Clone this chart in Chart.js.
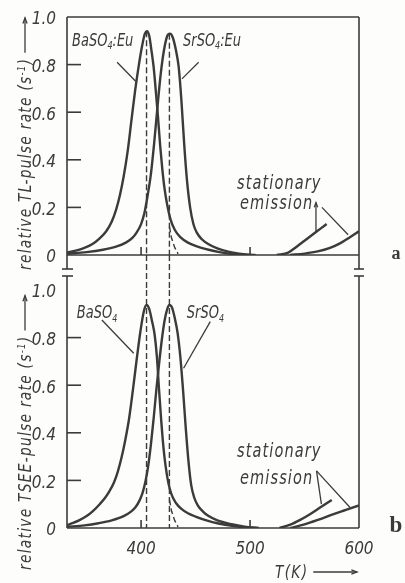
<!DOCTYPE html>
<html>
<head>
<meta charset="utf-8">
<script src="https://cdn.jsdelivr.net/npm/chart.js@4.4.0/dist/chart.umd.min.js"></script>
<style>
  html, body { margin: 0; padding: 0; background: #fdfdfc; }
  #wrap { position: relative; width: 405px; height: 583px; }
  #wrap canvas { position: absolute; left: 0; top: 0; }
</style>
</head>
<body>
<div id="wrap">
  <canvas id="tsee" width="405" height="583"></canvas>
  <canvas id="tl" width="405" height="583"></canvas>
</div>
<script>
// axes
const tRange = [332, 600];
const xTicks = [400, 500, 600];
const xMarks = [400, 500];
const yTicks = [0, 0.2, 0.4, 0.6, 0.8, 1.0];
const yTickLabels = ['0', '0.2', '0.4', '0.6', '0.8', '1.0'];

// panel a: TL pulse rate
const tlBaT = [332, 340, 348, 355, 362, 368, 373, 377, 380.5, 384, 387.5, 391, 394.5, 398, 401, 403.5, 405.5, 407.5, 409.5, 411.5, 413.5, 415.5, 417.5, 419.5, 421.5, 424, 427, 431, 436, 443, 452, 462, 472, 482, 495];
const tlBaV = [0.01, 0.018, 0.03, 0.045, 0.07, 0.1, 0.14, 0.19, 0.25, 0.33, 0.43, 0.56, 0.69, 0.8, 0.88, 0.93, 0.94, 0.92, 0.86, 0.79, 0.69, 0.58, 0.46, 0.36, 0.28, 0.21, 0.15, 0.105, 0.075, 0.052, 0.035, 0.022, 0.012, 0.005, 0];
const tlSrT = [332, 350, 365, 377, 386, 392, 396, 400, 403, 406, 409, 412, 415, 418, 421, 424, 426.5, 429, 432, 434.5, 437, 439.5, 442, 445, 448, 451, 456, 462, 470, 480, 490, 505];
const tlSrV = [0.005, 0.012, 0.022, 0.035, 0.052, 0.072, 0.095, 0.13, 0.175, 0.25, 0.34, 0.47, 0.62, 0.76, 0.86, 0.92, 0.93, 0.915, 0.86, 0.79, 0.65, 0.47, 0.32, 0.2, 0.13, 0.095, 0.065, 0.045, 0.028, 0.014, 0.006, 0];
const tlStatAT = [524.5, 535, 542.8, 550, 557.8, 565, 570.3];
const tlStatAV = [0, 0.01, 0.035, 0.06, 0.087, 0.112, 0.13];
const tlStatBT = [536.7, 550, 562, 573.4, 583, 591.7, 600];
const tlStatBV = [0, 0.006, 0.015, 0.03, 0.05, 0.075, 0.1];
const tlPeakT = [405, 426];
const tlPeakV = [0.94, 0.93];

// panel b: TSEE pulse rate
const tseeBaT = [332, 337, 343, 350, 356, 362, 367, 371, 375, 378.5, 382, 385.5, 389, 392.5, 396, 399.5, 402.5, 405, 407.5, 410, 412.5, 414.5, 416.5, 418.5, 420.5, 422.5, 425, 428, 432, 437, 443, 450, 460, 471, 485, 500];
const tseeBaV = [0.012, 0.02, 0.032, 0.05, 0.072, 0.1, 0.127, 0.155, 0.19, 0.235, 0.295, 0.37, 0.46, 0.58, 0.71, 0.83, 0.91, 0.937, 0.92, 0.87, 0.81, 0.72, 0.58, 0.45, 0.34, 0.26, 0.19, 0.14, 0.105, 0.08, 0.062, 0.048, 0.032, 0.019, 0.008, 0];
const tseeSrT = [332, 348, 361, 373, 384, 391, 395, 398.5, 401.5, 404, 406.5, 409, 411.5, 414, 416.5, 419, 421.5, 424, 426, 428.5, 431, 433.5, 436, 438.5, 441, 443.5, 446, 449, 452, 457, 462, 470, 483, 495, 508];
const tseeSrV = [0.005, 0.011, 0.02, 0.032, 0.05, 0.07, 0.088, 0.115, 0.15, 0.195, 0.26, 0.35, 0.46, 0.58, 0.69, 0.79, 0.87, 0.92, 0.937, 0.925, 0.88, 0.82, 0.72, 0.58, 0.42, 0.28, 0.18, 0.125, 0.095, 0.068, 0.05, 0.032, 0.016, 0.006, 0];
const tseeStatAT = [527, 537, 546, 555, 565, 575];
const tseeStatAV = [0, 0.014, 0.034, 0.058, 0.088, 0.118];
const tseeStatBT = [537, 550, 563, 576, 588, 600];
const tseeStatBV = [0, 0.015, 0.035, 0.057, 0.076, 0.095];
const tseePeakT = [405, 426];
const tseePeakV = [1, 1];

// short dashed tail next to the SrSO4 peak line (both panels)
const tailDashT = [426, 428, 431, 434];
const tailDashV = [0.12, 0.07, 0.03, 0.005];

const ink = '#3b3b3b';
const fam = "'DejaVu Sans Condensed', 'DejaVu Sans', sans-serif";
const tickFont = { family: fam, size: 17, style: 'italic' };
const squeeze = 0.85;

function pts(ts, vs) {
    return ts.map((t, i) => ({ x: t, y: vs[i] }));
}

function curve(ts, vs) {
    return {
        data: pts(ts, vs), borderColor: ink, borderWidth: 2.4, pointRadius: 0,
        cubicInterpolationMode: 'monotone', fill: false
    };
}

function dashed(data) {
    return {
        data, borderColor: ink, borderWidth: 1.4, borderDash: [6, 3],
        pointRadius: 0, tension: 0, fill: false
    };
}

function peakLines(ts, vs) {
    return ts.map((t, i) => dashed([{ x: t, y: vs[i] }, { x: t, y: 0 }]));
}

// narrow lettering with optional sub/superscript parts, y = vertical middle
function drawRich(ctx, parts, x, y, size, spacing, rot) {
    ctx.save();
    ctx.translate(x, y);
    if (rot) ctx.rotate(rot);
    ctx.scale(squeeze, 1);
    ctx.fillStyle = ink;
    ctx.textBaseline = 'alphabetic';
    ctx.textAlign = 'left';
    ctx.letterSpacing = spacing + 'px';
    let cx = 0;
    for (const p of parts) {
        const s = (p.sub || p.sup) ? size * 0.62 : size;
        ctx.font = `italic ${s}px ${fam}`;
        const dy = p.sub ? size * 0.22 : (p.sup ? -size * 0.36 : 0);
        ctx.fillText(p.t, cx, dy + size * 0.35);
        cx += ctx.measureText(p.t).width;
    }
    ctx.restore();
    return cx * squeeze;
}

function arrowLine(ctx, x1, y1, x2, y2, head) {
    ctx.beginPath();
    ctx.moveTo(x1, y1);
    ctx.lineTo(x2, y2);
    ctx.stroke();
    if (head) {
        const a = Math.atan2(y2 - y1, x2 - x1);
        ctx.beginPath();
        ctx.moveTo(x2 - head * Math.cos(a - 0.35), y2 - head * Math.sin(a - 0.35));
        ctx.lineTo(x2, y2);
        ctx.lineTo(x2 - head * Math.cos(a + 0.35), y2 - head * Math.sin(a + 0.35));
        ctx.stroke();
    }
}

// frame, inward ticks, breaks, labels and leader lines of one panel
function decor(spec) {
    return {
        id: 'decor',
        afterDatasetsDraw(chart) {
            const { ctx, chartArea: a, scales: { x, y } } = chart;
            const px = t => x.getPixelForValue(t);
            const py = v => y.getPixelForValue(v);
            ctx.save();
            ctx.strokeStyle = ink;
            ctx.lineWidth = 1.6;
            const seg = (x1, y1, x2, y2) => arrowLine(ctx, x1, y1, x2, y2, 0);

            const top = a.top - spec.extendTop;
            const bot = a.bottom + spec.extendBottom;
            seg(a.left, top, a.left, bot);
            seg(a.right, top, a.right, bot);
            if (spec.topBorder) seg(a.left, a.top, a.right, a.top);
            seg(a.left, a.bottom, a.right, a.bottom);
            const barY = spec.barAtTop ? top : bot;
            seg(a.left - 5, barY, a.left + 6, barY);
            seg(a.right - 5, barY, a.right + 5, barY);

            yTicks.slice(1, -1).forEach(v => seg(a.left, py(v), a.left + 14, py(v)));
            xMarks.forEach(t => seg(px(t), a.bottom, px(t), a.bottom - 8));

            // dashed peak lines running through the gap between panels
            if (spec.gapBelow) {
                ctx.save();
                ctx.lineWidth = 1.4;
                ctx.setLineDash([6, 3]);
                spec.peaks.forEach(t => seg(px(t), a.bottom, px(t), a.bottom + spec.gapBelow));
                ctx.restore();
            }

            ctx.lineWidth = 1.3;
            spec.leaders.forEach(l => arrowLine(ctx, px(l.from[0]), py(l.from[1]), px(l.to[0]), py(l.to[1]), l.head || 0));
            spec.labels.forEach(l => drawRich(ctx, l.parts, px(l.at[0]), py(l.at[1]), l.size, l.spacing || 0));

            // rotated y title + arrow
            const tx = 25, ty = a.bottom + spec.titleDrop;
            const w = drawRich(ctx, spec.title, tx, ty, 18, 1.5, -Math.PI / 2);
            arrowLine(ctx, tx, ty - w - 5, tx, ty - w - 40, 6);

            if (spec.xTitle) {
                const xw = drawRich(ctx, [{ t: 'T(K)' }], a.right - 84, a.bottom + 44, 18, 1.5);
                arrowLine(ctx, a.right - 84 + xw + 5, a.bottom + 44, a.right - 2, a.bottom + 44, 6);
            }

            ctx.fillStyle = ink;
            ctx.font = `bold ${spec.letterSize}px 'Liberation Serif', 'DejaVu Serif', serif`;
            ctx.textAlign = 'center';
            ctx.textBaseline = 'alphabetic';
            ctx.fillText(spec.letter, a.right + 37, a.bottom + 4);
            ctx.restore();
        }
    };
}

function panelOptions(padTop, padBottom, showX) {
    return {
        responsive: false,
        animation: false,
        events: [],
        layout: { padding: { left: 0, right: 46, top: padTop, bottom: padBottom } },
        plugins: { legend: { display: false }, tooltip: { enabled: false } },
        scales: {
            x: {
                type: 'linear', min: tRange[0], max: tRange[1], display: showX,
                grid: { display: false }, border: { display: false },
                afterBuildTicks: s => { s.ticks = xTicks.map(v => ({ value: v })); },
                afterFit: s => { if (showX) s.height = 55; },
                ticks: { color: ink, padding: 3, font: tickFont, maxRotation: 0, autoSkip: false, callback: v => String(v) }
            },
            y: {
                type: 'linear', min: 0, max: 1,
                grid: { display: false }, border: { display: false },
                afterBuildTicks: s => { s.ticks = yTicks.map(v => ({ value: v })); },
                afterFit: s => { s.width = 67; },
                ticks: { color: ink, padding: 3, labelOffset: 3, font: tickFont, autoSkip: false, callback: (v, i) => yTickLabels[i] }
            }
        }
    };
}

new Chart(document.getElementById('tl'), {
    type: 'line',
    data: {
        datasets: [
            curve(tlBaT, tlBaV), curve(tlSrT, tlSrV),
            curve(tlStatAT, tlStatAV), curve(tlStatBT, tlStatBV),
            ...peakLines(tlPeakT, tlPeakV),
            dashed(pts(tailDashT, tailDashV))
        ]
    },
    options: panelOptions(17, 328, false),
    plugins: [decor({
        letter: 'a', letterSize: 18, topBorder: true, extendTop: 0, extendBottom: 14, barAtTop: false,
        gapBelow: 35, peaks: tlPeakT, titleDrop: 15,
        title: [{ t: 'relative TL-pulse rate (s' }, { t: '-1', sup: true }, { t: ')' }],
        labels: [
            { parts: [{ t: 'BaSO' }, { t: '4', sub: true }, { t: ':Eu' }], at: [336.6, 0.905], size: 17 },
            { parts: [{ t: 'SrSO' }, { t: '4', sub: true }, { t: ':Eu' }], at: [438.5, 0.905], size: 17 },
            { parts: [{ t: 'stationary' }], at: [488, 0.307], size: 19, spacing: 1.3 },
            { parts: [{ t: 'emission' }], at: [490.8, 0.223], size: 19, spacing: 1.3 }
        ],
        leaders: [
            { from: [378, 0.81], to: [395, 0.73] },
            { from: [452.8, 0.81], to: [437.5, 0.74] },
            { from: [566, 0.2], to: [590, 0.085] },
            { from: [560.5, 0.1], to: [560.5, 0.22], head: 5 }
        ]
    })]
});

new Chart(document.getElementById('tsee'), {
    type: 'line',
    data: {
        datasets: [
            curve(tseeBaT, tseeBaV), curve(tseeSrT, tseeSrV),
            curve(tseeStatAT, tseeStatAV), curve(tseeStatBT, tseeStatBV),
            ...peakLines(tseePeakT, tseePeakV),
            dashed(pts(tailDashT, tailDashV))
        ]
    },
    options: panelOptions(290, 0, true),
    plugins: [decor({
        letter: 'b', letterSize: 23, topBorder: false, extendTop: 14, extendBottom: 0, barAtTop: true,
        gapBelow: 0, peaks: tseePeakT, titleDrop: 42,
        title: [{ t: 'relative TSEE-pulse rate (s' }, { t: '-1', sup: true }, { t: ')' }],
        xTitle: true,
        labels: [
            { parts: [{ t: 'BaSO' }, { t: '4', sub: true }], at: [341, 0.908], size: 17 },
            { parts: [{ t: 'SrSO' }, { t: '4', sub: true }], at: [442, 0.908], size: 17 },
            { parts: [{ t: 'stationary' }], at: [488, 0.328], size: 19, spacing: 1.3 },
            { parts: [{ t: 'emission' }], at: [490.8, 0.214], size: 19, spacing: 1.3 }
        ],
        leaders: [
            { from: [364, 0.874], to: [393.2, 0.734] },
            { from: [463.5, 0.867], to: [439, 0.671] },
            { from: [561, 0.24], to: [565.5, 0.1] },
            { from: [561, 0.24], to: [592, 0.085] }
        ]
    })]
});
</script>
</body>
</html>
